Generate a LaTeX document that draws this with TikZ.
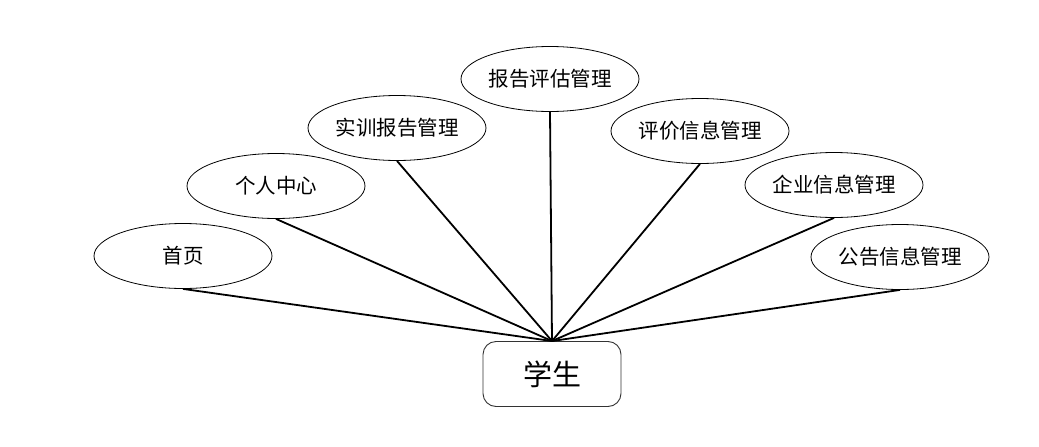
\documentclass[tikz,border=0pt]{standalone}
\usepackage{fontspec}
\newfontfamily\cjk{Noto Sans CJK SC}
\usetikzlibrary{shapes.geometric}
\begin{document}
\begin{tikzpicture}[x=1pt,y=-1pt,
  func/.style={draw=black,line width=0.8pt,ellipse,minimum width=178pt,minimum height=65pt,inner sep=0pt,font=\cjk\fontsize{20.5}{20.5}\selectfont},
  actor/.style={draw=black!80,line width=0.9pt,rounded corners=13pt,minimum width=138pt,minimum height=65pt,inner sep=0pt,font=\cjk\fontsize{29}{29}\selectfont},
  link/.style={line width=1.8pt,black}]
\useasboundingbox (0,0) rectangle (1039,447);
\node[func] (e1) at (183,256) {首页};
\node[func] (e2) at (276,186) {个人中心};
\node[func] (e3) at (397,128) {实训报告管理};
\node[func] (e4) at (550,79) {报告评估管理};
\node[func] (e5) at (700,131) {评价信息管理};
\node[func] (e6) at (834,185) {企业信息管理};
\node[func] (e7) at (900,257) {公告信息管理};
\node[actor] (s) at (552,374) {学生};
\foreach \e in {e1,e2,e3,e4,e5,e6,e7}{
  \draw[link] (\e.south) -- (s.north);
}
\end{tikzpicture}
\end{document}
